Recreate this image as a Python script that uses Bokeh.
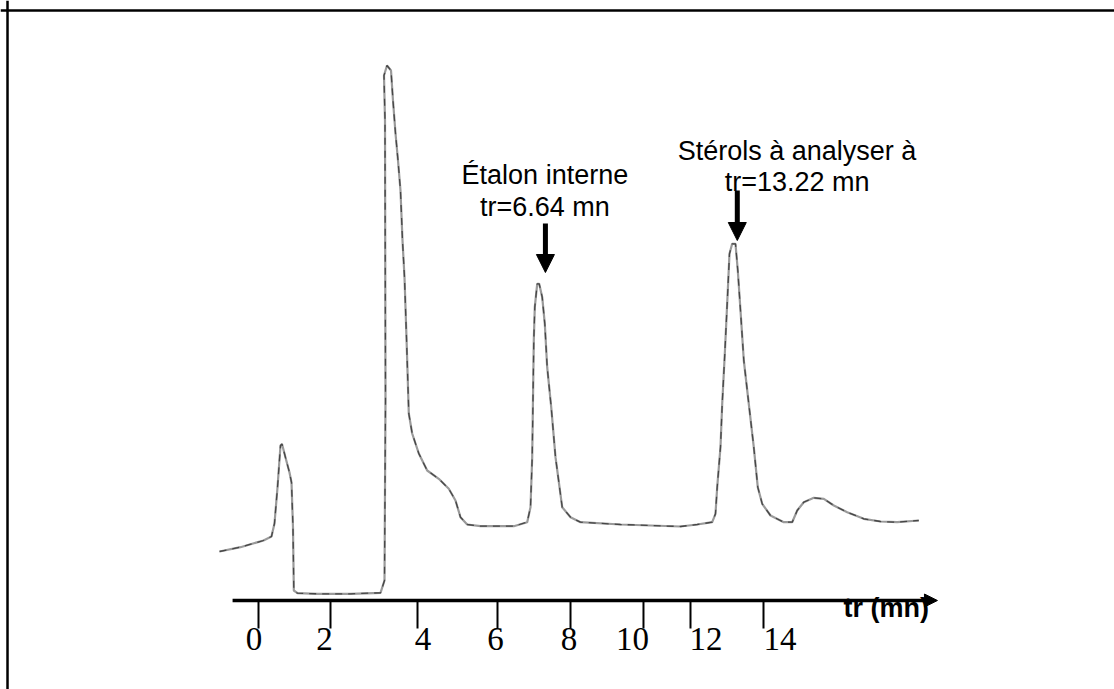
from bokeh.plotting import figure
from bokeh.models import Range1d, Span, Arrow, NormalHead, Label, ColumnDataSource
from bokeh.core.properties import value
from bokeh.embed import file_html
from bokeh.resources import INLINE

# ---- data (time in min, detector signal in arbitrary units) ----
time_min = [-1.083, -0.5, 0.139, 0.361, 0.444, 0.528, 0.611, 0.653, 0.75, 0.861, 0.917,
            0.958, 0.981, 1.083, 1.639, 2.556, 3.389, 3.5, 3.528, 3.514, 3.486, 3.569,
            3.681, 3.736, 3.806, 3.875, 3.944, 4.0, 4.056, 4.111, 4.175, 4.269, 4.453,
            4.686, 5.008, 5.286, 5.472, 5.611, 5.797, 6.167, 7.092, 7.464, 7.556, 7.603,
            7.647, 7.675, 7.742, 7.797, 7.881, 7.953, 8.019, 8.131, 8.25, 8.436, 8.667,
            8.944, 10.056, 11.722, 12.186, 12.603, 12.694, 12.742, 12.833, 12.881, 12.953,
            13.019, 13.083, 13.158, 13.25, 13.314, 13.389, 13.481, 13.619, 13.758, 13.869,
            13.992, 14.222, 14.592, 14.825, 14.964, 15.147, 15.425, 15.703, 15.981, 16.353,
            16.814, 17.278, 17.742, 18.342]
signal = [9.8, 10.66, 12.0, 12.8, 15.4, 22.6, 31.0, 31.3, 28.6, 25.6, 23.6,
          14.6, 2.0, 1.46, 1.34, 1.34, 1.54, 4.0, 40.0, 96.0, 105.0, 107.0,
          106.0, 100.0, 93.4, 88.0, 82.0, 72.0, 64.6, 52.6, 37.4, 33.4, 29.4,
          26.0, 24.34, 22.34, 20.0, 16.66, 15.2, 14.86, 14.86, 15.66, 18.66, 28.66,
          52.0, 58.66, 63.34, 63.34, 60.66, 55.34, 46.66, 38.66, 28.66, 18.66, 16.66,
          15.66, 15.2, 14.8, 15.2, 15.66, 17.34, 22.66, 30.66, 39.34, 49.34,
          59.34, 69.34, 71.34, 71.34, 66.0, 58.0, 48.0, 39.34, 30.66, 22.66,
          19.34, 17.0, 15.66, 15.66, 18.0, 19.66, 20.54, 20.34, 19.0, 17.66,
          16.34, 15.8, 15.66, 16.0]

tick_labels = ["0", "2", "4", "6", "8", "10", "12", "14"]
tick_marks_at = [0.0, 2.0, 4.417, 6.639, 8.667, 10.694, 12.0, 14.028]
tick_labels_at = [-0.125, 1.833, 4.569, 6.583, 8.625, 10.389, 12.431, 14.486]

axis_title = "tr (mn)"
peak_names = [["Étalon interne", "tr=6.64 mn"], ["Stérols à analyser à", "tr=13.22 mn"]]
peak_times = [7.97, 13.30]

# ---- figure ----
W, H = 1114, 689
p = figure(width=W, height=H, output_backend="svg", toolbar_location=None,
           x_axis_type=None, y_axis_type=None,
           x_range=Range1d(-7.1667, 23.778), y_range=Range1d(-17.8, 120.0),
           min_border=0, min_border_left=0, min_border_right=0,
           min_border_top=0, min_border_bottom=0)
p.outline_line_color = None
p.grid.visible = False
p.background_fill_color = "white"
p.border_fill_color = "white"

# border of the scanned figure (top and left only)
p.add_layout(Span(location=118.0, dimension="width", line_color="black", line_width=2.5))
p.add_layout(Span(location=-6.972, dimension="height", line_color="black", line_width=2.5))

# chromatogram trace
src = ColumnDataSource(dict(t=time_min, s=signal))
p.line("t", "s", source=src, line_color="#9a9a9a", line_width=2.2)
p.line("t", "s", source=src, line_color="#222222", line_width=1.3, line_dash="7 6", line_alpha=0.7)

# hand-drawn x axis with arrow
p.add_layout(Arrow(end=NormalHead(size=13, fill_color="black", line_color="black"),
                   x_start=-0.72, y_start=0, x_end=18.86, y_end=0,
                   line_color="black", line_width=3.5))
p.segment(x0=tick_marks_at, y0=[0] * len(tick_marks_at), x1=tick_marks_at,
          y1=[-5.6] * len(tick_marks_at), line_color="black", line_width=2)
p.text(x=tick_labels_at, y=[-7.6] * len(tick_labels_at), text=tick_labels,
       text_font=value("Liberation Serif"), text_font_size="33px",
       text_align="center", text_baseline="middle", text_color="black")
p.add_layout(Label(x=16.25, y=-1.4, text=axis_title, text_font="Liberation Sans",
                   text_font_size="27px", text_font_style="bold",
                   text_align="left", text_baseline="middle", text_color="black"))

# peak annotations
line_y = [[85.2, 78.8], [90.0, 83.8]]
arrow_y = [[75.4, 65.6], [82.0, 72.0]]
text_x = [7.955, 14.96]
for names, tx, ly, t, ay in zip(peak_names, text_x, line_y, peak_times, arrow_y):
    for txt, yy in zip(names, ly):
        p.add_layout(Label(x=tx, y=yy, text=txt, text_font="Liberation Sans",
                           text_font_size="27px", text_align="center",
                           text_baseline="middle", text_color="black"))
    p.add_layout(Arrow(end=NormalHead(size=18, fill_color="black", line_color="black"),
                       x_start=t, y_start=ay[0], x_end=t, y_end=ay[1],
                       line_color="black", line_width=5))

open("out.html", "w").write(file_html(p, INLINE))
